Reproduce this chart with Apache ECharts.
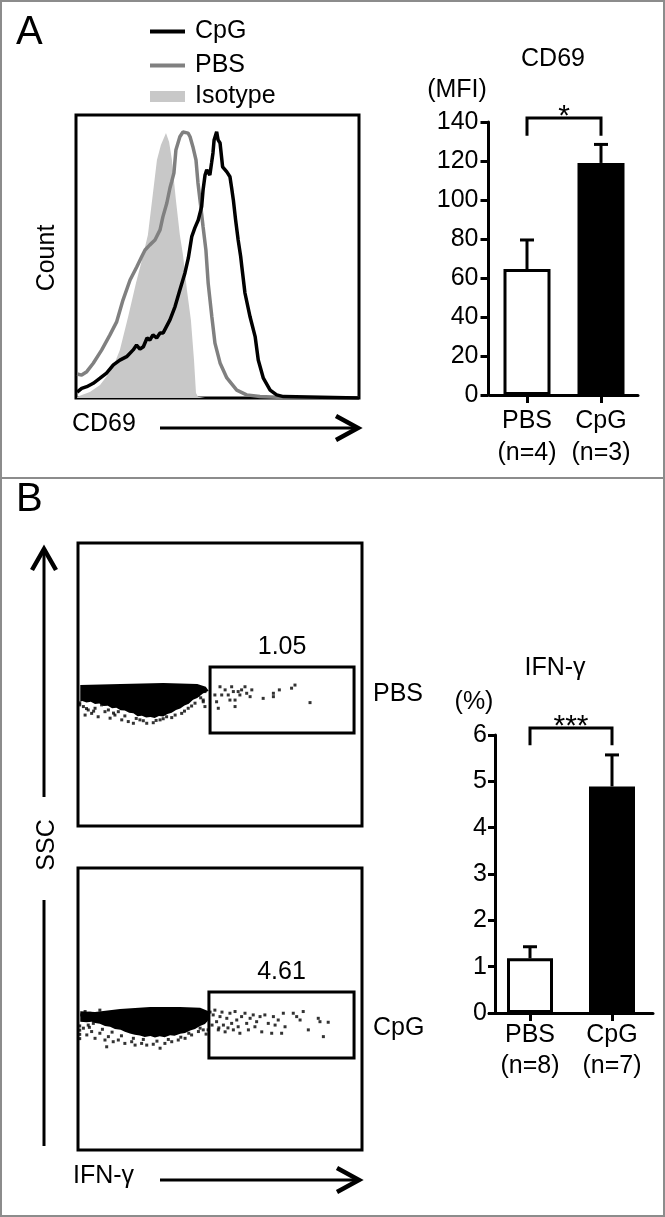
<!DOCTYPE html>
<html><head><meta charset="utf-8">
<script src="https://cdn.jsdelivr.net/npm/echarts@6/dist/echarts.min.js"></script>
<style>html,body{margin:0;padding:0;background:#fff}#c{width:665px;height:1217px}</style>
</head><body><div id="c"></div>
<script>
// ---------- Panel A: CD69 histogram (x: % of log scale, y: % of max count) ----------
const histIsotype = [[0.4,0.4],[4.9,2.1],[8.5,4.6],[12.0,9.2],[13.8,12.7],[15.5,17.0],[18.4,28.6],[21.2,40.6],[23.3,48.8],[25.4,57.6],[26.9,70.0],[28.6,84.1],[30.0,89.4],[31.8,93.6],[32.9,90.5],[33.9,84.1],[35.3,70.0],[36.7,57.6],[37.8,50.5],[39.2,38.2],[40.6,27.6],[41.7,13.4],[42.4,1.8],[43.1,0.4],[45.6,0]];
const histPBS = [[0.4,8.5],[2.0,8.1],[3.8,9.3],[6.1,12.3],[9.1,17.0],[12.0,22.3],[14.4,27.0],[16.6,34.6],[19.1,41.7],[21.5,46.4],[23.2,49.9],[24.4,52.3],[26.1,54.1],[27.9,55.8],[29.7,59.4],[30.7,64.0],[32.1,68.9],[33.2,74.2],[33.8,76.4],[34.6,79.5],[35.3,87.6],[36.7,92.3],[37.8,94.0],[38.5,94.1],[39.6,93.6],[40.3,92.3],[41.3,88.8],[42.4,84.1],[43.1,76.0],[44.1,67.6],[44.9,60.5],[45.9,52.3],[46.7,40.6],[48.0,28.7],[49.1,19.4],[50.9,12.4],[53.3,7.1],[56.8,2.8],[60.3,1.1],[65.0,0.5],[73.1,0.2],[100,0]];
const histCpG = [[0.4,2.1],[2.0,3.4],[3.8,4.0],[6.1,5.2],[8.5,7.0],[10.8,8.8],[13.2,11.7],[15.5,13.4],[17.9,14.6],[20.2,17.0],[21.4,18.7],[22.6,17.3],[23.8,18.1],[25.1,21.2],[26.1,20.5],[27.2,22.3],[28.5,21.2],[29.7,23.0],[30.8,23.0],[33.2,27.6],[35.0,32.3],[36.7,38.2],[38.5,44.2],[39.7,49.5],[40.9,57.0],[42.0,60.1],[43.2,62.9],[44.4,67.6],[44.9,73.5],[45.6,78.8],[46.2,80.6],[47.3,78.8],[47.9,83.0],[48.4,86.6],[48.8,91.2],[49.7,94.1],[50.2,91.2],[50.9,90.1],[51.8,81.7],[53.3,79.9],[54.4,78.2],[55.0,74.2],[55.6,70.0],[56.4,62.9],[57.3,55.8],[58.2,49.9],[58.6,46.4],[59.7,37.1],[61.5,28.7],[63.3,21.7],[64.4,13.4],[66.2,7.0],[68.6,2.8],[70.9,1.1],[73.3,0.5],[100,0]];

// ---------- Panel A: CD69 MFI bars ----------
const mfiCategories = ['PBS\n(n=4)', 'CpG\n(n=3)'];
const mfiMean = [64.6, 119.0];
const mfiSem = [14.9, 9.5];
const mfiSig = [[0, 1, 142, 133]];
const mfiSigLabel = '*';

// ---------- Panel B: dot plots (x: IFN-γ %, y: SSC %) ----------
const pbsCore = [[0.8,49.8],[8,50.0],[15,50.2],[30,50.5],[42,50.2],[45,49.2],[46,47.8],[44,46.8],[42,45.2],[40.5,44.6],[39,43.2],[37.5,42.6],[36,41.5],[34.5,41.0],[33,40.0],[31.5,39.6],[30,38.7],[28.5,38.9],[27,38.2],[25.5,38.5],[24,38.3],[22.5,39.0],[21,38.8],[19.5,39.8],[18,40.0],[16.5,40.8],[15,40.9],[13.5,41.8],[12,41.6],[10.5,42.5],[9,42.4],[7.5,43.3],[6,43.1],[4.5,43.9],[3,43.6],[1.5,44.2],[0.8,44]];
const pbsDots = [[44.7,47.5],[44.1,43.9],[44.7,42.2],[48.2,46.3],[48.8,43.9],[49.4,41.6],[50.0,49.2],[50.6,46.3],[51.8,48.1],[52.9,46.3],[54.1,49.2],[54.7,47.5],[53.5,44.5],[55.3,44.5],[55.3,42.2],[56.4,47.5],[57.0,46.3],[57.6,48.1],[58.8,49.2],[59.4,46.9],[60.6,45.7],[61.2,48.1],[65.2,45.1],[68.8,46.9],[68.8,45.7],[70.9,48.1],[75.2,48.7],[76.4,49.8],[81.7,43.6],
  [2.5,39.2],[4.8,39.8],[7.1,38.6],[9.5,40.4],[11.3,38.1],[13.0,39.2],[15.4,37.5],[17.7,36.9],[19.5,36.3],[21.8,37.5],[24.2,36.3],[26.5,36.5],[28.9,37.5],[31.2,38.6],[34.2,39.2],[36.5,39.8],[38.8,41.6],[41.2,43.4],[42.4,46.3],[44.1,44.5],[1.9,42.2],[3.6,41.0],[6.0,41.6],[8.3,42.8],[14.2,40.4],[10.7,41.0],[0.6,42.8],[0.6,43.5],
  [3.0,41.5],[5.5,40.6],[12.5,39.9],[16.5,38.9],[20.5,38.0],[23.0,37.2],[27.5,37.3],[30.0,37.9],[33.0,38.3],[37.5,40.6],[40.0,42.4],[43.2,45.3]];
const pbsGate = [[46.5, 56.2], [97.2, 32.9]];
const pbsGateLabel = '1.05';

const cpgCore = [[0.8,49.2],[6.0,48.9],[14.8,50.0],[25.4,50.7],[35.9,50.7],[43.0,50.4],[45.8,49.3],[46.5,46.8],[45.5,45.6],[44.7,44.7],[43,44.0],[41.2,42.9],[39.5,42.4],[37.7,41.5],[36,41.2],[34,40.5],[32.4,40.7],[30.5,40.0],[28.8,40.3],[27.1,39.9],[25.5,40.4],[23.5,40.1],[21.8,40.6],[20,40.9],[18.3,41.3],[16.5,41.9],[15,42.6],[13,42.9],[11.3,43.7],[9.5,44.0],[7.7,44.8],[6,45.0],[4.9,45.5],[3,45.3],[0.8,45.5]];
const cpgDots = [[47.6,47.9],[48.8,45.5],[49.4,42.6],[50.0,47.3],[51.2,44.3],[51.8,41.9],[52.4,46.7],[53.5,48.5],[54.1,44.9],[54.7,42.6],[55.3,49.1],[55.9,46.1],[56.4,43.7],[57.0,41.4],[57.6,47.3],[58.8,48.5],[59.4,44.9],[60.0,42.6],[60.6,46.7],[61.7,47.9],[62.3,43.7],[62.9,45.5],[64.1,47.3],[64.7,41.9],[65.8,47.9],[67.0,44.9],[68.2,41.4],[68.8,47.3],[69.4,44.3],[70.5,46.1],[71.7,41.4],[72.3,48.5],[72.9,43.7],[75.8,48.5],[77.0,47.3],[78.2,46.1],[79.3,49.1],[81.1,42.6],[84.6,46.7],[85.2,45.5],[88.1,45.3],[86.4,40.2],
  [46.5,48.9],[47.2,44.3],[45.8,42.6],[45.1,41.1],[48.2,49.6],[49.6,43.3],[50.7,48.9],[52.8,43.3],
  [1.9,43.2],[3.1,40.8],[4.8,42.0],[6.0,39.6],[7.7,41.4],[9.5,39.0],[10.7,40.2],[12.4,38.4],[10.1,36.6],[14.2,39.0],[16.5,37.8],[18.9,38.4],[20.1,37.2],[22.4,37.8],[24.2,37.2],[26.5,37.5],[28.9,36.1],[30.6,37.8],[33.0,38.4],[35.3,39.0],[37.7,39.6],[40.0,40.8],[42.4,42.0],[44.1,42.6],[1.3,47.9],[2.5,46.1],[4.2,48.5],[5.4,44.9],[3.6,44.3],[6.6,47.3],[2.5,49.1],[7.7,49.6],[0.6,39.5],[0.6,41],[0.6,42.5],[0.6,44],
  [4.0,43.5],[8.6,42.8],[12.0,41.8],[15.3,40.5],[19.5,39.6],[23.0,39.2],[27.8,38.6],[31.8,39.2],[36.2,40.0],[39.0,41.4],[43.0,43.2]];
const cpgGate = [[46.1, 56.0], [97.2, 32.6]];
const cpgGateLabel = '4.61';

// ---------- Panel B: IFN-γ bars ----------
const ifnCategories = ['PBS\n(n=8)', 'CpG\n(n=7)'];
const ifnMean = [1.18, 4.89];
const ifnSem = [0.25, 0.68];
const ifnSig = [[0, 1, 6.15, 5.78]];
const ifnSigLabel = '***';

// ---------- rendering ----------
const FONT = '"Liberation Sans", Arial, Helvetica, sans-serif';
const FS = 25;
const INK = '#000';
const chart = echarts.init(document.getElementById('c'), null, {renderer: 'canvas'});

function T(text, x, y, size, align, vAlign, rot) {
  return {type: 'text', x: x, y: y, rotation: rot || 0, silent: true,
    style: {text: text, font: size + 'px ' + FONT, fill: INK, align: align || 'left', verticalAlign: vAlign || 'middle'}};
}
function L(points, w, color) {
  return {type: 'polyline', silent: true, shape: {points: points}, style: {stroke: color || INK, lineWidth: w, fill: null, lineJoin: 'miter'}};
}
function renderErr(params, api) {
  const x = api.value(0), m = api.value(1), t = api.value(2);
  const p0 = api.coord([x, m]), p1 = api.coord([x, t]);
  const hw = 7;
  return {type: 'group', children: [
    {type: 'line', shape: {x1: p0[0], y1: p0[1], x2: p1[0], y2: p1[1]}, style: {stroke: INK, lineWidth: 3}},
    {type: 'line', shape: {x1: p1[0] - hw, y1: p1[1], x2: p1[0] + hw, y2: p1[1]}, style: {stroke: INK, lineWidth: 3}}
  ]};
}
function sigRenderer(label) {
  return function (params, api) {
    const a = api.coord([api.value(0), api.value(2)]);
    const b = api.coord([api.value(1), api.value(2)]);
    const d = api.coord([api.value(0), api.value(3)])[1];
    return {type: 'group', children: [
      {type: 'polyline', shape: {points: [[a[0], d], [a[0], a[1]], [b[0], b[1]], [b[0], d]]}, style: {stroke: INK, lineWidth: 3, fill: null}},
      {type: 'text', style: {text: label, x: (a[0] + b[0]) / 2, y: a[1] - 1, align: 'center', verticalAlign: 'middle', font: '30px ' + FONT, fill: INK}}
    ]};
  };
}
function polyRenderer(poly) {
  return function (params, api) {
    return {type: 'polygon', shape: {points: poly.map(p => api.coord(p))}, style: {fill: INK}};
  };
}
const hidden = {axisLine: {show: false}, axisTick: {show: false}, axisLabel: {show: false}, splitLine: {show: false}};
const gridBox = {show: true, borderColor: INK, borderWidth: 3, backgroundColor: 'transparent', containLabel: false, outerBoundsMode: 'none'};
const barAxisLine = {show: true, lineStyle: {color: INK, width: 3}};

function gateArea(gate, label) {
  return {silent: true, itemStyle: {color: 'rgba(0,0,0,0)', borderColor: INK, borderWidth: 3},
    label: {show: true, position: 'top', distance: 6, formatter: label, fontSize: FS, color: INK, fontFamily: FONT},
    data: [[{coord: gate[0]}, {coord: gate[1]}]]};
}

const option = {
  animation: false,
  backgroundColor: '#fff',
  textStyle: {fontFamily: FONT, color: INK},
  legend: [
    {data: [{name: 'CpG', itemStyle: {color: '#000'}}, {name: 'PBS', itemStyle: {color: '#808080'}}],
     orient: 'vertical', left: 145, top: 14, itemWidth: 35, itemHeight: 4, itemGap: 9, icon: 'rect',
     selectedMode: false, textStyle: {fontSize: FS, color: INK, fontFamily: FONT, padding: [0, 0, 0, 5]}},
    {data: [{name: 'Isotype', itemStyle: {color: '#c8c8c8'}}],
     orient: 'vertical', left: 145, top: 79, itemWidth: 35, itemHeight: 11, icon: 'rect',
     selectedMode: false, textStyle: {fontSize: FS, color: INK, fontFamily: FONT, padding: [0, 0, 0, 5]}}
  ],
  grid: [
    Object.assign({left: 76, top: 115, width: 283, height: 283}, gridBox),
    {left: 490, top: 122, width: 148, height: 273, containLabel: false, outerBoundsMode: 'none'},
    Object.assign({left: 78, top: 543, width: 284, height: 283}, gridBox),
    Object.assign({left: 78, top: 868, width: 284, height: 282}, gridBox),
    {left: 489, top: 735, width: 164, height: 278, containLabel: false, outerBoundsMode: 'none'}
  ],
  xAxis: [
    Object.assign({gridIndex: 0, type: 'value', min: 0, max: 100}, hidden),
    {gridIndex: 1, type: 'category', data: mfiCategories, axisLine: barAxisLine,
     axisTick: {show: true, alignWithLabel: true, length: 8, lineStyle: {color: INK, width: 3}},
     axisLabel: {fontSize: FS, color: INK, lineHeight: 32, margin: 10, interval: 0}},
    Object.assign({gridIndex: 2, type: 'value', min: 0, max: 100}, hidden),
    Object.assign({gridIndex: 3, type: 'value', min: 0, max: 100}, hidden),
    {gridIndex: 4, type: 'category', data: ifnCategories, axisLine: barAxisLine,
     axisTick: {show: true, alignWithLabel: true, length: 8, lineStyle: {color: INK, width: 3}},
     axisLabel: {fontSize: FS, color: INK, lineHeight: 31, margin: 7, interval: 0}}
  ],
  yAxis: [
    Object.assign({gridIndex: 0, type: 'value', min: 0, max: 100}, hidden),
    {gridIndex: 1, type: 'value', min: 0, max: 140, interval: 20, offset: 1.5, axisLine: barAxisLine,
     axisTick: {show: true, length: 8, lineStyle: {color: INK, width: 3}},
     axisLabel: {fontSize: FS, color: INK, margin: 10}, splitLine: {show: false}},
    Object.assign({gridIndex: 2, type: 'value', min: 0, max: 100}, hidden),
    Object.assign({gridIndex: 3, type: 'value', min: 0, max: 100}, hidden),
    {gridIndex: 4, type: 'value', min: 0, max: 6, interval: 1, offset: -6, axisLine: barAxisLine,
     axisTick: {show: true, length: 7, lineStyle: {color: INK, width: 3}},
     axisLabel: {fontSize: FS, color: INK, margin: 8}, splitLine: {show: false}}
  ],
  series: [
    {name: 'Isotype', type: 'line', xAxisIndex: 0, yAxisIndex: 0, data: histIsotype, symbol: 'none', showSymbol: false,
     itemStyle: {color: '#c8c8c8'}, lineStyle: {width: 0, color: '#c8c8c8'}, areaStyle: {color: '#c8c8c8', opacity: 1}, z: 1},
    {name: 'PBS', type: 'line', xAxisIndex: 0, yAxisIndex: 0, data: histPBS, symbol: 'none', showSymbol: false,
     itemStyle: {color: '#808080'}, lineStyle: {width: 3.5, color: '#808080'}, z: 2},
    {name: 'CpG', type: 'line', xAxisIndex: 0, yAxisIndex: 0, data: histCpG, symbol: 'none', showSymbol: false,
     itemStyle: {color: '#000'}, lineStyle: {width: 3.5, color: '#000'}, z: 3},

    {name: 'MFI', type: 'bar', xAxisIndex: 1, yAxisIndex: 1, barWidth: 47,
     data: mfiMean.map((v, i) => ({value: v, itemStyle: i === 0 ? {color: '#fff', borderColor: INK, borderWidth: 3} : {color: INK}}))},
    {name: 'MFI err', type: 'custom', xAxisIndex: 1, yAxisIndex: 1, renderItem: renderErr, encode: {x: 0, y: [1, 2]},
     data: mfiMean.map((m, i) => [i, m, m + mfiSem[i]]), z: 5},
    {name: 'MFI sig', type: 'custom', xAxisIndex: 1, yAxisIndex: 1, renderItem: sigRenderer(mfiSigLabel), encode: {x: [0, 1], y: [2, 3]},
     data: mfiSig, clip: false, z: 5},

    {name: 'PBS core', type: 'custom', xAxisIndex: 2, yAxisIndex: 2, renderItem: polyRenderer(pbsCore), data: [[0, 0]], silent: true},
    {name: 'PBS dots', type: 'scatter', xAxisIndex: 2, yAxisIndex: 2, data: pbsDots, symbol: 'rect', symbolSize: 3,
     itemStyle: {color: INK}, silent: true, markArea: gateArea(pbsGate, pbsGateLabel)},
    {name: 'CpG core', type: 'custom', xAxisIndex: 3, yAxisIndex: 3, renderItem: polyRenderer(cpgCore), data: [[0, 0]], silent: true},
    {name: 'CpG dots', type: 'scatter', xAxisIndex: 3, yAxisIndex: 3, data: cpgDots, symbol: 'rect', symbolSize: 3,
     itemStyle: {color: INK}, silent: true, markArea: gateArea(cpgGate, cpgGateLabel)},

    {name: 'IFN', type: 'bar', xAxisIndex: 4, yAxisIndex: 4, barWidth: 46,
     data: ifnMean.map((v, i) => ({value: v, itemStyle: i === 0 ? {color: '#fff', borderColor: INK, borderWidth: 3} : {color: INK}}))},
    {name: 'IFN err', type: 'custom', xAxisIndex: 4, yAxisIndex: 4, renderItem: renderErr, encode: {x: 0, y: [1, 2]},
     data: ifnMean.map((m, i) => [i, m, m + ifnSem[i]]), z: 5},
    {name: 'IFN sig', type: 'custom', xAxisIndex: 4, yAxisIndex: 4, renderItem: sigRenderer(ifnSigLabel), encode: {x: [0, 1], y: [2, 3]},
     data: ifnSig, clip: false, z: 5}
  ],
  graphic: [
    {type: 'rect', silent: true, shape: {x: 1, y: 1, width: 663, height: 1215}, style: {fill: null, stroke: '#8c8c8c', lineWidth: 2}},
    {type: 'line', silent: true, shape: {x1: 0, y1: 478, x2: 665, y2: 478}, style: {stroke: '#8c8c8c', lineWidth: 2}},
    T('A', 16, 33, 40, 'left', 'middle'),
    T('B', 16, 500, 40, 'left', 'middle'),
    T('Count', 47, 258, FS, 'center', 'middle', Math.PI / 2),
    T('CD69', 72, 424, FS, 'left', 'middle'),
    L([[160, 428], [358, 428]], 3),
    L([[336, 416], [358, 428], [336, 440]], 4.5),
    T('CD69', 553, 59, FS, 'center', 'middle'),
    T('(MFI)', 457, 90, FS, 'center', 'middle'),
    T('SSC', 47, 845, FS, 'center', 'middle', Math.PI / 2),
    L([[44, 797], [44, 550]], 3),
    L([[32, 570], [44, 549], [56, 570]], 4.5),
    L([[44, 900], [44, 1146]], 3),
    T('PBS', 373, 694, FS, 'left', 'middle'),
    T('CpG', 373, 1028, FS, 'left', 'middle'),
    T('IFN-γ', 73, 1176, FS, 'left', 'middle'),
    L([[160, 1180], [359, 1180]], 3),
    L([[337, 1168], [359, 1180], [337, 1192]], 4.5),
    T('IFN-γ', 555, 668, FS, 'center', 'middle'),
    T('(%)', 474, 702, FS, 'center', 'middle')
  ]
};
chart.setOption(option);
</script>
</body></html>
